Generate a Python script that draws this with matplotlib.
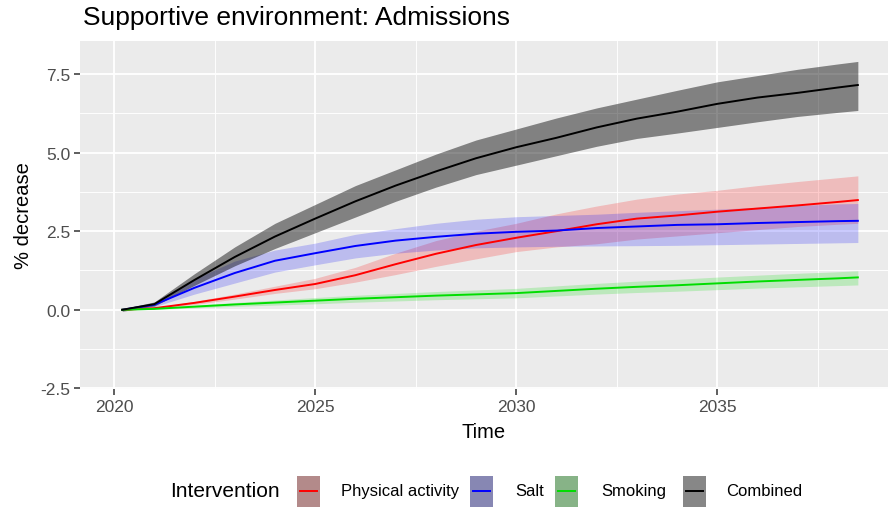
import matplotlib
matplotlib.use("Agg")
import matplotlib.pyplot as plt
from matplotlib.patches import Rectangle
from matplotlib.lines import Line2D
import numpy as np

plt.rcParams["font.family"] = ["Liberation Sans", "DejaVu Sans"]

# ---------------- data ----------------
years = [2020.2, 2021, 2022, 2023, 2024, 2025, 2026, 2027, 2028, 2029,
         2030, 2031, 2032, 2033, 2034, 2035, 2036, 2037, 2038, 2038.5]

pa_mid = [0.0, 0.05, 0.22, 0.42, 0.63, 0.82, 1.10, 1.45, 1.78, 2.06,
          2.29, 2.50, 2.72, 2.90, 3.00, 3.12, 3.22, 3.32, 3.43, 3.49]
pa_hi = [0.01, 0.07, 0.27, 0.50, 0.75, 1.00, 1.35, 1.80, 2.20, 2.50,
         2.75, 3.05, 3.30, 3.52, 3.68, 3.80, 3.95, 4.08, 4.20, 4.26]
pa_lo = [-0.01, 0.03, 0.17, 0.34, 0.52, 0.67, 0.88, 1.12, 1.38, 1.62,
         1.85, 2.00, 2.10, 2.25, 2.35, 2.45, 2.55, 2.65, 2.72, 2.75]

salt_mid = [0.0, 0.16, 0.70, 1.17, 1.56, 1.80, 2.03, 2.20, 2.32, 2.42,
            2.48, 2.52, 2.60, 2.65, 2.70, 2.72, 2.76, 2.79, 2.82, 2.83]
salt_hi = [0.02, 0.22, 0.98, 1.55, 1.90, 2.12, 2.40, 2.58, 2.75, 2.88,
           2.96, 3.00, 3.04, 3.10, 3.15, 3.20, 3.26, 3.32, 3.37, 3.38]
salt_lo = [-0.02, 0.10, 0.50, 0.85, 1.20, 1.43, 1.65, 1.80, 1.90, 1.97,
           2.00, 2.02, 2.03, 2.04, 2.05, 2.07, 2.09, 2.11, 2.13, 2.14]

smk_mid = [0.0, 0.03, 0.10, 0.17, 0.23, 0.29, 0.35, 0.40, 0.45, 0.49,
           0.53, 0.60, 0.67, 0.73, 0.78, 0.84, 0.90, 0.95, 1.00, 1.03]
smk_hi = [0.01, 0.05, 0.14, 0.23, 0.31, 0.39, 0.46, 0.52, 0.58, 0.63,
          0.68, 0.76, 0.84, 0.91, 0.97, 1.04, 1.10, 1.16, 1.21, 1.24]
smk_lo = [-0.01, 0.01, 0.06, 0.11, 0.15, 0.19, 0.24, 0.28, 0.32, 0.35,
          0.38, 0.44, 0.50, 0.55, 0.59, 0.64, 0.69, 0.73, 0.77, 0.79]

comb_mid = [0.0, 0.18, 0.95, 1.68, 2.33, 2.90, 3.45, 3.95, 4.40, 4.82,
            5.17, 5.47, 5.80, 6.08, 6.30, 6.55, 6.75, 6.90, 7.07, 7.15]
comb_hi = [0.03, 0.25, 1.15, 2.00, 2.75, 3.35, 3.95, 4.45, 4.95, 5.40,
           5.75, 6.10, 6.42, 6.70, 6.98, 7.25, 7.45, 7.65, 7.82, 7.90]
comb_lo = [-0.05, 0.12, 0.78, 1.40, 1.95, 2.45, 2.95, 3.45, 3.90, 4.30,
           4.60, 4.90, 5.20, 5.45, 5.62, 5.80, 5.98, 6.15, 6.28, 6.34]

labels = ["Physical activity", "Salt", "Smoking", "Combined"]
x_ticks = [2020, 2025, 2030, 2035]
y_ticks = [-2.5, 0.0, 2.5, 5.0, 7.5]

# ---------------- style ----------------
line_cols = ["#FF0000", "#0000FF", "#00DD00", "#000000"]
band_alpha = [0.2, 0.2, 0.2, 0.45]
key_cols = ["#B38A8A", "#8787B3", "#87B387", "#878787"]

series = [(pa_mid, pa_lo, pa_hi), (salt_mid, salt_lo, salt_hi),
          (smk_mid, smk_lo, smk_hi), (comb_mid, comb_lo, comb_hi)]

W, H = 890, 510
fig = plt.figure(figsize=(W / 100, H / 100), dpi=100)
fig.patch.set_facecolor("white")
ax = fig.add_axes([80 / W, 1 - 390 / H, (888 - 80) / W, (390 - 42) / H])
ax.set_facecolor("#EBEBEB")
for s in ax.spines.values():
    s.set_visible(False)

ax.set_xlim(2019.15, 2039.25)
ax.set_ylim(-2.52, 8.55)
ax.set_xticks(x_ticks)
ax.set_yticks(y_ticks)
ax.set_xticks([2022.5, 2027.5, 2032.5, 2037.5], minor=True)
ax.set_yticks([-1.25, 1.25, 3.75, 6.25], minor=True)
ax.set_xticklabels([str(v) for v in x_ticks])
ax.set_yticklabels([f"{v:.1f}" for v in y_ticks])
ax.grid(which="major", color="white", lw=1.3)
ax.grid(which="minor", color="white", lw=0.65)
ax.set_axisbelow(True)
ax.tick_params(which="major", length=4, width=1.1, color="#333333",
               labelsize=12.5, labelcolor="#4D4D4D", pad=3)
ax.tick_params(which="minor", length=0)

x = np.array(years)
for (mid, lo, hi), lc, a in zip(series, line_cols, band_alpha):
    ax.fill_between(x, lo, hi, color=lc, alpha=a, lw=0)
for (mid, lo, hi), lc in zip(series, line_cols):
    ax.plot(x, mid, color=lc, lw=1.4)

ax.set_xlabel("Time", fontsize=14.5, labelpad=6)
ax.set_ylabel("% decrease", fontsize=14.5, labelpad=5)

fig.text(83 / W, 1 - 18 / H, "Supportive environment: Admissions",
         fontsize=19, ha="left", va="center")

# ---------------- legend ----------------
ly = 1 - 492 / H
fig.text(170 / W, ly, "Intervention", fontsize=15, ha="left", va="center")
key_x = [297, 470, 555, 683]
txt_x = [341, 515, 601, 726]
kw, kh = 23, 31
for i, lab in enumerate(labels):
    kx = key_x[i]
    fig.add_artist(Rectangle((kx / W, 1 - (492 + kh / 2) / H), kw / W, kh / H,
                             transform=fig.transFigure, facecolor=key_cols[i],
                             edgecolor="none"))
    fig.add_artist(Line2D([(kx + 3) / W, (kx + kw - 3) / W], [ly, ly],
                          transform=fig.transFigure, color=line_cols[i], lw=1.4))
    fig.text(txt_x[i] / W, ly, lab, fontsize=12, ha="left", va="center")

fig.savefig("out.png", dpi=100)
